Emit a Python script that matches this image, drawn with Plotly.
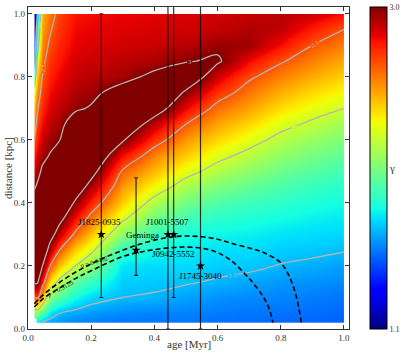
import numpy as np
import plotly.graph_objects as go

# ---------------- data ----------------
age_nodes = [0.02, 0.03, 0.045, 0.07, 0.1, 0.15, 0.2, 0.3, 0.4, 0.5, 0.6, 0.7, 0.8, 0.9, 1.0]
dist_nodes = [0.02, 0.05, 0.1, 0.15, 0.2, 0.25, 0.3, 0.35, 0.4, 0.45, 0.5,
              0.55, 0.6, 0.65, 0.7, 0.75, 0.8, 0.85, 0.9, 0.95, 1.0]

# gamma values, one list per age node (bottom -> top in distance); nan = no data
gamma_age_002 = [float('nan'), 1.82, 2.50, 3.08, 3.30, 3.40, 3.40, 3.35, 3.15, 2.97, 2.80, 2.65, 2.50, 2.40, 2.28, 2.10, 1.80, 1.42, 1.25, 1.18, 1.13]
gamma_age_003 = [1.55, 1.85, 2.55, 3.05, 3.35, 3.45, 3.45, 3.45, 3.25, 3.05, 2.90, 2.78, 2.66, 2.56, 2.48, 2.38, 2.25, 2.08, 1.88, 1.68, 1.50]
gamma_age_0045 = [1.48, 1.72, 2.22, 2.65, 3.02, 3.30, 3.45, 3.45, 3.45, 3.30, 3.05, 2.92, 2.82, 2.72, 2.64, 2.57, 2.50, 2.44, 2.38, 2.32, 2.27]
gamma_age_007 = [1.46, 1.56, 1.82, 2.14, 2.50, 2.85, 3.15, 3.35, 3.45, 3.45, 3.30, 3.02, 2.92, 2.85, 2.78, 2.72, 2.66, 2.60, 2.54, 2.48, 2.42]
gamma_age_01 = [1.44, 1.50, 1.72, 1.95, 2.22, 2.50, 2.82, 3.10, 3.35, 3.45, 3.45, 3.30, 2.99, 2.90, 2.84, 2.78, 2.73, 2.68, 2.64, 2.60, 2.56]
gamma_age_015 = [1.42, 1.47, 1.60, 1.75, 2.00, 2.20, 2.45, 2.70, 2.95, 3.20, 3.45, 3.45, 3.45, 3.20, 2.95, 2.88, 2.83, 2.79, 2.75, 2.72, 2.69]
gamma_age_02 = [1.41, 1.45, 1.54, 1.66, 1.85, 2.04, 2.22, 2.42, 2.64, 2.88, 3.12, 3.35, 3.45, 3.45, 3.03, 2.92, 2.86, 2.81, 2.77, 2.74, 2.71]
gamma_age_03 = [1.40, 1.43, 1.50, 1.53, 1.56, 1.66, 1.84, 2.03, 2.20, 2.33, 2.47, 2.70, 3.03, 3.30, 3.45, 3.15, 2.90, 2.85, 2.80, 2.76, 2.73]
gamma_age_04 = [1.40, 1.42, 1.49, 1.52, 1.55, 1.60, 1.68, 1.79, 1.93, 2.10, 2.24, 2.38, 2.60, 2.84, 3.18, 3.40, 3.08, 2.88, 2.82, 2.78, 2.75]
gamma_age_05 = [1.40, 1.42, 1.46, 1.51, 1.55, 1.57, 1.61, 1.69, 1.79, 1.91, 2.06, 2.20, 2.33, 2.50, 2.72, 2.95, 3.25, 2.98, 2.86, 2.80, 2.77]
gamma_age_06 = [1.39, 1.41, 1.44, 1.49, 1.53, 1.56, 1.59, 1.64, 1.72, 1.82, 1.93, 2.05, 2.18, 2.30, 2.43, 2.60, 2.80, 3.04, 2.94, 2.83, 2.79]
gamma_age_07 = [1.39, 1.40, 1.43, 1.47, 1.52, 1.55, 1.58, 1.62, 1.68, 1.76, 1.85, 1.95, 2.06, 2.18, 2.30, 2.41, 2.53, 2.72, 2.92, 2.88, 2.82]
gamma_age_08 = [1.38, 1.40, 1.42, 1.45, 1.495, 1.53, 1.56, 1.60, 1.65, 1.71, 1.78, 1.86, 1.95, 2.05, 2.16, 2.27, 2.39, 2.52, 2.70, 2.84, 2.86]
gamma_age_09 = [1.38, 1.39, 1.41, 1.44, 1.48, 1.52, 1.55, 1.58, 1.62, 1.67, 1.73, 1.80, 1.88, 1.97, 2.07, 2.17, 2.28, 2.39, 2.50, 2.66, 2.80]
gamma_age_10 = [1.37, 1.38, 1.40, 1.43, 1.46, 1.505, 1.54, 1.57, 1.60, 1.64, 1.69, 1.75, 1.82, 1.90, 2.00, 2.09, 2.19, 2.29, 2.39, 2.50, 2.70]

contour_levels = [1.5, 2.0, 2.5, 3.0]
gamma_min, gamma_max = 1.1, 3.0

# dashed probability curves
p_outer_age = [0.02, 0.05, 0.1, 0.15, 0.2, 0.25, 0.3, 0.35, 0.4, 0.45, 0.5, 0.55, 0.6, 0.64,
               0.7, 0.74, 0.8, 0.83, 0.85, 0.865]
p_outer_dist = [0.08, 0.11, 0.148, 0.18, 0.207, 0.23, 0.25, 0.268, 0.282, 0.292, 0.295, 0.293,
                0.285, 0.273, 0.257, 0.245, 0.21, 0.16, 0.10, 0.02]
p_inner_age = [0.02, 0.05, 0.1, 0.15, 0.2, 0.3, 0.4, 0.5, 0.58, 0.64, 0.7, 0.746, 0.765, 0.775]
p_inner_dist = [0.07, 0.098, 0.13, 0.16, 0.185, 0.23, 0.252, 0.26, 0.25, 0.219, 0.16, 0.10, 0.06, 0.02]
p_labels = ["p = 0.0462", "p = 0.3125"]

# pulsars
psr_names = ["J1825-0935", "Geminga", "J1001-5507", "J0942-5552", "J1745-3040"]
psr_age = [0.232, 0.342, 0.443, 0.461, 0.546]
psr_dist = [0.30, 0.25, 0.30, 0.30, 0.20]
psr_dist_lo = [0.10, 0.17, 0.0, 0.10, 0.0]
psr_dist_hi = [1.0, 0.48, 1.1, 1.1, 1.1]

x_ticks = [0.0, 0.2, 0.4, 0.6, 0.8, 1.0]
x_ticklabels = ["0.0", "0.2", "0.4", "0.6", "0.8", "1.0"]
y_ticks = [0.0, 0.2, 0.4, 0.6, 0.8, 1.0]
y_ticklabels = ["0.0", "0.2", "0.4", "0.6", "0.8", "1.0"]
x_range = [0.0, 1.016]
y_range = [0.0, 1.022]

# ---------------- figure ----------------
gamma = np.array([gamma_age_002, gamma_age_003, gamma_age_0045, gamma_age_007, gamma_age_01,
                  gamma_age_015, gamma_age_02, gamma_age_03, gamma_age_04, gamma_age_05,
                  gamma_age_06, gamma_age_07, gamma_age_08, gamma_age_09, gamma_age_10]).T

jet = [[0.0, 'rgb(0,0,128)'], [0.11, 'rgb(0,0,255)'], [0.125, 'rgb(0,0,255)'],
       [0.34, 'rgb(0,219,255)'], [0.35, 'rgb(0,230,247)'], [0.375, 'rgb(21,255,226)'],
       [0.64, 'rgb(239,255,8)'], [0.65, 'rgb(247,246,0)'], [0.66, 'rgb(255,236,0)'],
       [0.89, 'rgb(255,19,0)'], [0.91, 'rgb(232,0,0)'], [1.0, 'rgb(128,0,0)']]

FONT = "Liberation Serif"
TXT = '#333'
fig = go.Figure()

# heatmap lives in its own (hidden) axes whose domain covers exactly the data extent
fig.add_trace(go.Heatmap(
    x=age_nodes, y=dist_nodes, z=np.log(gamma), xaxis='x', yaxis='y',
    zmin=np.log(gamma_min), zmax=np.log(gamma_max),
    colorscale=jet, zsmooth='best',
    customdata=gamma, hovertemplate="age %{x}<br>d %{y}<br>γ %{customdata:.2f}<extra></extra>",
    colorbar=dict(
        x=1.065, xanchor='left', xpad=0, y=0.5, yanchor='middle', ypad=0,
        len=1.0, lenmode='fraction', thickness=17, outlinewidth=1, outlinecolor='black',
        tickvals=[np.log(gamma_min), np.log(gamma_max)],
        ticktext=[f"{gamma_min:.1f}", f"{gamma_max:.1f}"],
        ticks='', tickfont=dict(family=FONT, size=8, color=TXT),
    ),
))

fig.add_trace(go.Contour(
    x=age_nodes, y=dist_nodes, z=gamma, xaxis='x2', yaxis='y2',
    contours=dict(coloring='lines', start=contour_levels[0], end=contour_levels[-1],
                  size=contour_levels[1] - contour_levels[0], showlabels=True,
                  labelfont=dict(family=FONT, size=6, color='#c0c0c0')),
    colorscale=[[0, '#b4b4b4'], [1, '#b4b4b4']], showscale=False,
    line=dict(width=1.3), hoverinfo='skip',
))

for xs, ys in [(p_outer_age, p_outer_dist), (p_inner_age, p_inner_dist)]:
    fig.add_trace(go.Scatter(x=xs, y=ys, xaxis='x2', yaxis='y2', mode='lines',
                             line=dict(color='black', width=1.6, dash='5px,3px'),
                             line_shape='spline', hoverinfo='skip', showlegend=False))

fig.add_trace(go.Scatter(
    x=psr_age, y=psr_dist, xaxis='x2', yaxis='y2', mode='markers',
    marker=dict(symbol='star', size=7, color='black'),
    error_y=dict(type='data', symmetric=False,
                 array=[h - d for h, d in zip(psr_dist_hi, psr_dist)],
                 arrayminus=[d - l for d, l in zip(psr_dist, psr_dist_lo)],
                 color='rgba(0,0,0,0.8)', thickness=1.2, width=2),
    text=psr_names, hoverinfo='text', showlegend=False,
))

label_shift = {"J1825-0935": (-2, 12), "Geminga": (6, 15), "J1001-5507": (0, 12),
               "J0942-5552": (0, -20), "J1745-3040": (0, -10)}
for n, a, d in zip(psr_names, psr_age, psr_dist):
    dx, dy = label_shift[n]
    fig.add_annotation(x=a, y=d, xref='x2', yref='y2', text=n, showarrow=False, xshift=dx, yshift=dy,
                       font=dict(family=FONT, size=9, color='black'))

fig.add_annotation(x=0.21, y=0.213, xref='x2', yref='y2', text=p_labels[0], showarrow=False, textangle=-17,
                   font=dict(family=FONT, size=6.5, color='#222'))
fig.add_annotation(x=0.10, y=0.13, xref='x2', yref='y2', text=p_labels[1], showarrow=False, textangle=-27,
                   font=dict(family=FONT, size=6.5, color='#222'))

fig.add_annotation(xref='paper', yref='paper', x=1.15, y=0.5, text="γ", showarrow=False,
                   font=dict(family=FONT, size=11, color=TXT))
fig.add_annotation(xref='paper', yref='paper', x=0.5, y=-0.047, text="age [Myr]", showarrow=False,
                   yanchor='middle', font=dict(family=FONT, size=11, color=TXT))
fig.add_annotation(xref='paper', yref='paper', x=-0.062, y=0.5, text="distance [kpc]", showarrow=False,
                   textangle=-90, xanchor='center', font=dict(family=FONT, size=11, color=TXT))

axis_common = dict(ticks='inside', ticklen=4, tickwidth=1, tickcolor=TXT, showline=True,
                   linecolor=TXT, linewidth=1.3, mirror='ticks', showgrid=False, zeroline=False,
                   automargin=False, tickfont=dict(family=FONT, size=9, color=TXT))

hm_x_dom = [age_nodes[0] / x_range[1], age_nodes[-1] / x_range[1]]
hm_y_dom = [dist_nodes[0] / y_range[1], dist_nodes[-1] / y_range[1]]

fig.update_layout(
    width=404, height=355, margin=dict(l=28, r=55, t=7, b=26, autoexpand=False),
    plot_bgcolor='rgba(0,0,0,0)', paper_bgcolor='white', showlegend=False,
    xaxis=dict(domain=hm_x_dom, range=[age_nodes[0], age_nodes[-1]], visible=False,
               anchor='y', automargin=False),
    yaxis=dict(domain=hm_y_dom, range=[dist_nodes[0], dist_nodes[-1]], visible=False,
               anchor='x', automargin=False),
    xaxis2=dict(domain=[0, 1], range=x_range, anchor='y2', tickvals=x_ticks,
                ticktext=x_ticklabels, **axis_common),
    yaxis2=dict(domain=[0, 1], range=y_range, anchor='x2', tickvals=y_ticks,
                ticktext=y_ticklabels, **axis_common),
)

fig.write_html("out.html", config={'displayModeBar': False},
               post_script="document.body.style.margin='0px';")
